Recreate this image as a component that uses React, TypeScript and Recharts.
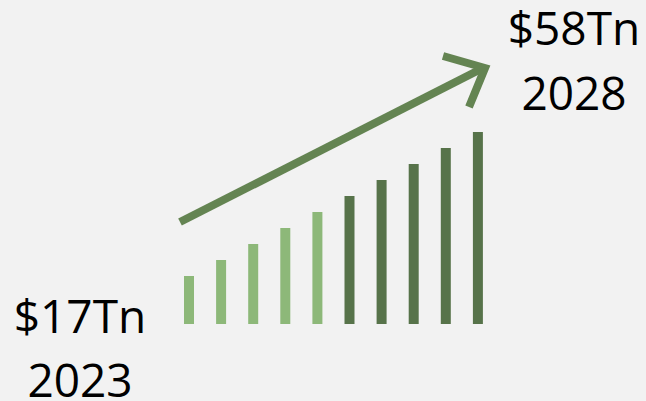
import { BarChart, Bar, XAxis, YAxis, Cell } from 'recharts';

// ten steps from 2023 to 2028, heights (relative units)
const steps = ['1', '2', '3', '4', '5', '6', '7', '8', '9', '10'];
const values = [3, 4, 5, 6, 7, 8, 9, 10, 11, 12];
const phases = ['early', 'early', 'early', 'early', 'early', 'late', 'late', 'late', 'late', 'late'];

const startLabel = ['$17Tn', '2023'];
const endLabel = ['$58Tn', '2028'];

const phaseColor: Record<string, string> = {
  early: '#8db879',
  late: '#57734a',
};

const chartData = steps.map((step, i) => ({ step, value: values[i], phase: phases[i] }));

const textStyle = {
  fontFamily: '"Open Sans", "Liberation Sans", sans-serif',
  fontSize: 46,
  fill: '#000',
};

export default function App() {
  return (
    <div style={{ position: 'fixed', top: 0, left: 0, width: 646, height: 401, background: '#f2f2f2' }}>
      <BarChart
        width={646}
        height={401}
        data={chartData}
        margin={{ top: 132, right: 152, bottom: 77, left: 173 }}
      >
        <XAxis dataKey="step" hide />
        <YAxis hide domain={[0, 12]} />
        <Bar dataKey="value" barSize={10} isAnimationActive={false}>
          {chartData.map((d) => (
            <Cell key={d.step} fill={phaseColor[d.phase]} />
          ))}
        </Bar>
      </BarChart>
      <svg width={646} height={401} style={{ position: 'absolute', top: 0, left: 0 }}>
        <g stroke="#648452" strokeWidth={8} fill="none">
          <path d="M180,222 L483,68" />
          <path d="M443,56 L485,68 L469,107" strokeLinejoin="miter" />
        </g>
        <text x={80} y={333} textAnchor="middle" style={textStyle}>{startLabel[0]}</text>
        <text x={80} y={397} textAnchor="middle" style={textStyle}>{startLabel[1]}</text>
        <text x={574} y={45} textAnchor="middle" style={textStyle}>{endLabel[0]}</text>
        <text x={574} y={110} textAnchor="middle" style={textStyle}>{endLabel[1]}</text>
      </svg>
    </div>
  );
}
